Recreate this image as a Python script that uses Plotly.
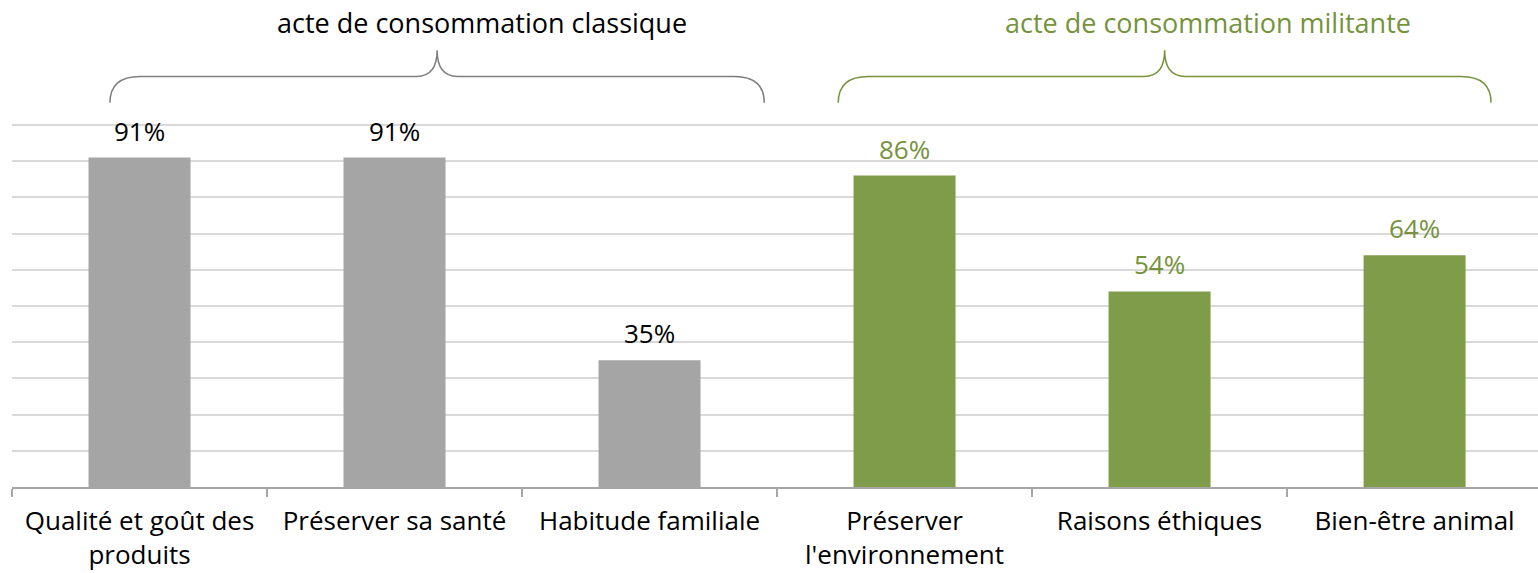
import plotly.graph_objects as go

categories = ["Qualité et goût des<br>produits", "Préserver sa santé", "Habitude familiale",
              "Préserver<br>l'environnement", "Raisons éthiques", "Bien-être animal"]
values = [91, 91, 35, 86, 54, 64]
groups = ["classique", "classique", "classique", "militante", "militante", "militante"]
group_titles = {"classique": "acte de consommation classique",
                "militante": "acte de consommation militante"}

GRAY = "#a5a5a5"
GREEN = "#7f9c4a"
BRACE_GRAY = "#7f7f7f"
BRACE_GREEN = "#76923c"
FONT = "'Open Sans', Lato, sans-serif"

bar_colors = [GRAY if g == "classique" else GREEN for g in groups]
label_colors = ["#000000" if g == "classique" else BRACE_GREEN for g in groups]

xmin, xmax = -0.5, 5.484
ymax = 134.5

fig = go.Figure()
fig.add_trace(go.Bar(
    x=list(range(len(categories))), y=values,
    marker=dict(color=bar_colors, line=dict(width=0)),
    width=0.4, showlegend=False, hoverinfo="skip",
))

annotations = []
for i, (v, c) in enumerate(zip(values, label_colors)):
    annotations.append(dict(x=i, y=v, xref="x", yref="y", text=f"{v}%", showarrow=False,
                            yanchor="bottom", yshift=7,
                            font=dict(family=FONT, size=26, color=c)))


def px(c):
    return (c - xmin) / (xmax - xmin)


def brace(left, right, color):
    yb, ym, yt = 106.1, 113.4, 120.6
    cx = (left + right) / 2
    r1, r2 = 0.118, 0.08
    L, R, C = px(left), px(right), px(cx)
    Lr, Rr = px(left + r1), px(right - r1)
    C1, C2 = px(cx - r2), px(cx + r2)
    path = (f"M {L},{yb} Q {L},{ym} {Lr},{ym} L {C1},{ym} Q {C},{ym} {C},{yt} "
            f"Q {C},{ym} {C2},{ym} L {Rr},{ym} Q {R},{ym} {R},{yb}")
    return dict(type="path", xref="paper", yref="y", path=path,
                line=dict(color=color, width=1.5))

brace_spans = {"classique": (-0.116, 2.45), "militante": (2.74, 5.30)}
brace_colors = {"classique": BRACE_GRAY, "militante": BRACE_GREEN}
title_colors = {"classique": "#000000", "militante": BRACE_GREEN}
title_x = {"classique": 1.343, "militante": 4.19}

shapes = []
for g in ["classique", "militante"]:
    l, r = brace_spans[g]
    shapes.append(brace(l, r, brace_colors[g]))
    annotations.append(dict(x=title_x[g], y=128.3, xref="x", yref="y", text=group_titles[g],
                            showarrow=False, xanchor="center", yanchor="middle",
                            font=dict(family=FONT, size=27, color=title_colors[g])))

fig.update_layout(
    width=1538, height=573,
    margin=dict(l=12, r=0, t=0, b=86, autoexpand=False),
    plot_bgcolor="white", paper_bgcolor="white",
    shapes=shapes, annotations=annotations,
    xaxis=dict(
        tickmode="array", tickvals=list(range(len(categories))), ticktext=categories,
        range=[xmin, xmax], showgrid=False, zeroline=False,
        showline=True, linecolor="#a6a6a6", linewidth=1.5,
        ticks="", tickfont=dict(family=FONT, size=26, color="#000000"),
        ticklabelstandoff=10, automargin=False,
    ),
    yaxis=dict(
        range=[0, ymax], tickmode="array", tickvals=list(range(10, 101, 10)),
        showticklabels=False, showgrid=True, gridcolor="#d9d9d9", gridwidth=1.5,
        zeroline=False, showline=False, automargin=False,
    ),
    font=dict(family=FONT),
)

fig.update_xaxes(minor=dict(tickmode="array", tickvals=[i - 0.5 for i in range(len(categories))],
                            ticks="outside", ticklen=8, tickcolor="#a6a6a6", tickwidth=1.5,
                            showgrid=False))

fig.write_html("out.html", config={"displayModeBar": False},
               post_script="document.body.style.margin='0';document.body.style.padding='0';")
